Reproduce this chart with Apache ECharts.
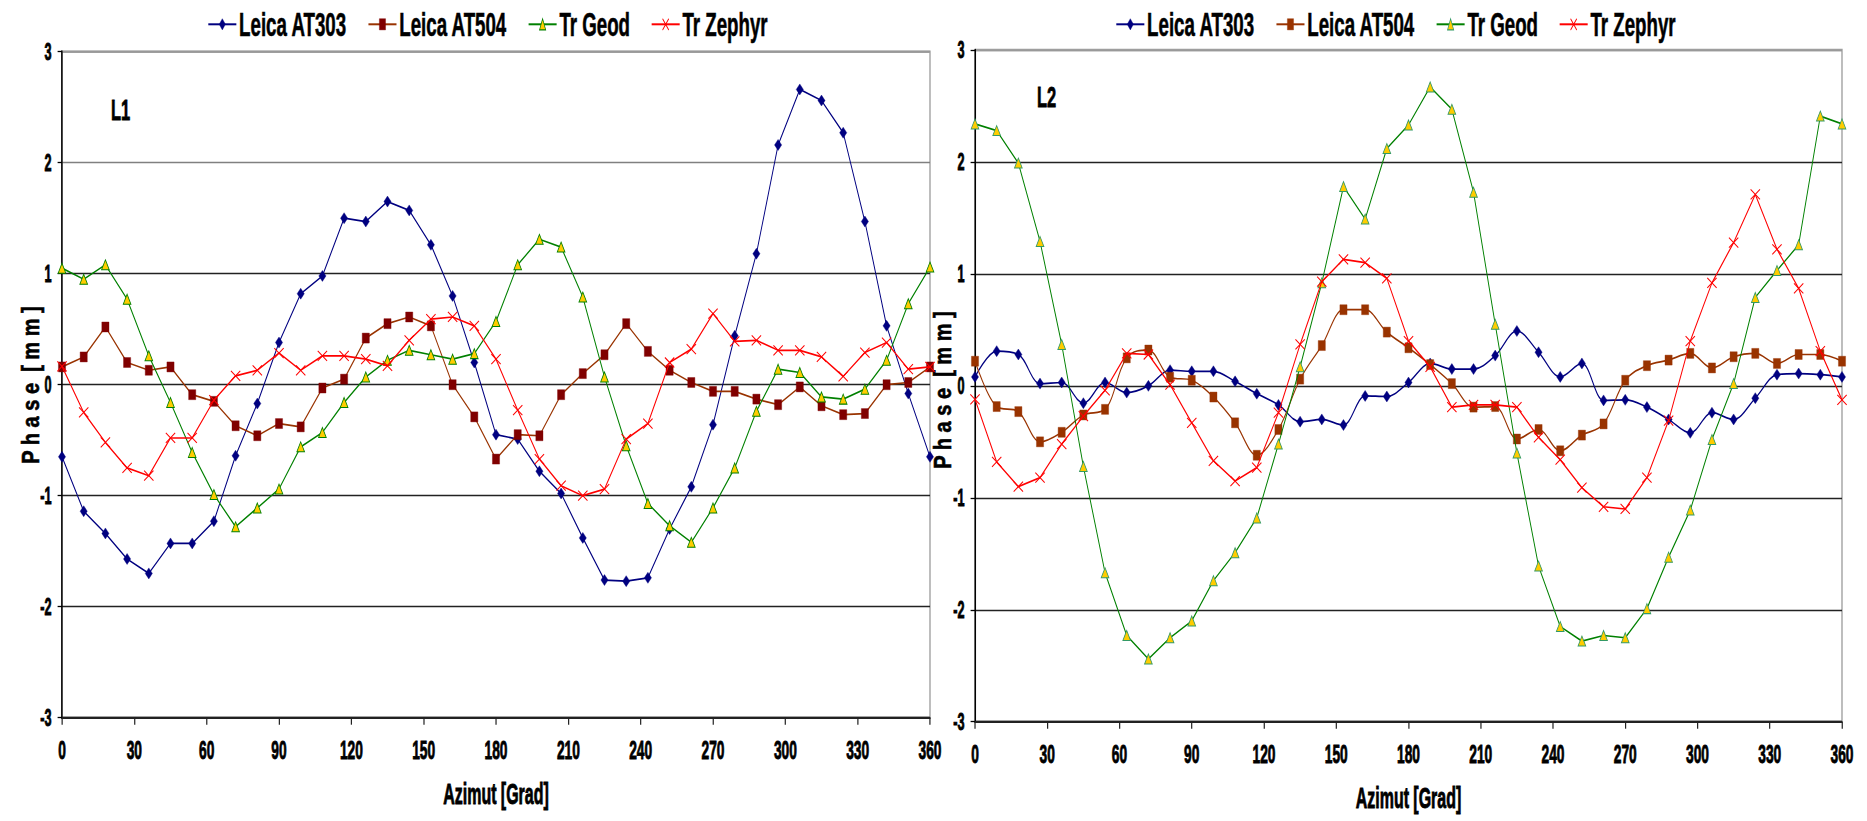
<!DOCTYPE html>
<html><head><meta charset="utf-8">
<script src="https://cdn.jsdelivr.net/npm/echarts@6/dist/echarts.min.js"></script>
<style>
html,body{margin:0;padding:0;overflow:hidden;background:#fff;width:1867px;height:821px;}
#c{width:3395px;height:821px;transform:scaleX(0.549926);transform-origin:0 0;}
</style></head><body><div id="c"></div>
<script>
// Azimuth (x values, degrees)
const azimuth = [0,9,18,27,36,45,54,63,72,81,90,99,108,117,126,135,144,153,162,171,180,189,198,207,216,225,234,243,252,261,270,279,288,297,306,315,324,333,342,351,360];
const xTicks = [0,30,60,90,120,150,180,210,240,270,300,330,360];
const yTicks = [-3,-2,-1,0,1,2,3];
const seriesNames = ['Leica AT303','Leica AT504','Tr Geod','Tr Zephyr'];

// Panel L1
const l1_at303 = [-0.65,-1.14,-1.34,-1.57,-1.70,-1.43,-1.43,-1.23,-0.64,-0.17,0.38,0.82,0.98,1.50,1.47,1.65,1.57,1.26,0.80,0.20,-0.45,-0.49,-0.78,-0.98,-1.38,-1.76,-1.77,-1.74,-1.30,-0.92,-0.36,0.44,1.18,2.16,2.66,2.56,2.27,1.47,0.53,-0.08,-0.65];
const l1_at504 = [0.16,0.25,0.52,0.20,0.13,0.16,-0.09,-0.15,-0.37,-0.46,-0.35,-0.38,-0.03,0.05,0.42,0.55,0.61,0.53,0.00,-0.29,-0.67,-0.45,-0.46,-0.09,0.10,0.27,0.55,0.30,0.13,0.02,-0.06,-0.06,-0.13,-0.18,-0.02,-0.19,-0.27,-0.26,0.00,0.02,0.16];
const l1_geod = [1.05,0.95,1.08,0.77,0.26,-0.16,-0.61,-0.99,-1.28,-1.11,-0.94,-0.56,-0.43,-0.16,0.07,0.22,0.31,0.27,0.23,0.28,0.57,1.08,1.31,1.24,0.79,0.07,-0.55,-1.07,-1.27,-1.42,-1.11,-0.75,-0.24,0.14,0.11,-0.11,-0.13,-0.04,0.22,0.73,1.06];
const l1_zephyr = [0.165,-0.25,-0.52,-0.75,-0.82,-0.48,-0.48,-0.14,0.08,0.13,0.285,0.13,0.26,0.26,0.23,0.17,0.40,0.59,0.61,0.53,0.23,-0.23,-0.67,-0.91,-1.00,-0.94,-0.49,-0.35,0.20,0.32,0.64,0.39,0.40,0.31,0.31,0.25,0.075,0.29,0.38,0.14,0.16];

// Panel L2
const l2_at303 = [0.08,0.31,0.28,0.02,0.03,-0.155,0.03,-0.06,0.00,0.14,0.13,0.13,0.04,-0.07,-0.17,-0.32,-0.30,-0.35,-0.09,-0.095,0.03,0.20,0.15,0.15,0.27,0.49,0.30,0.08,0.20,-0.13,-0.125,-0.19,-0.30,-0.42,-0.24,-0.30,-0.11,0.10,0.11,0.10,0.08];
const l2_at504 = [0.22,-0.185,-0.23,-0.50,-0.415,-0.26,-0.21,0.25,0.32,0.077,0.05,-0.10,-0.33,-0.62,-0.39,0.06,0.36,0.68,0.68,0.48,0.34,0.19,0.02,-0.19,-0.185,-0.475,-0.39,-0.58,-0.44,-0.34,0.05,0.18,0.23,0.29,0.16,0.26,0.29,0.20,0.28,0.28,0.22];
const l2_geod = [2.34,2.28,1.99,1.29,0.37,-0.72,-1.67,-2.23,-2.44,-2.25,-2.10,-1.74,-1.49,-1.18,-0.52,0.17,0.92,1.78,1.49,2.12,2.33,2.67,2.47,1.73,0.55,-0.60,-1.61,-2.15,-2.28,-2.23,-2.25,-1.99,-1.53,-1.11,-0.48,0.02,0.79,1.03,1.26,2.41,2.34];
const l2_zephyr = [-0.12,-0.68,-0.90,-0.82,-0.52,-0.27,-0.04,0.29,0.28,0.01,-0.33,-0.67,-0.85,-0.73,-0.24,0.37,0.93,1.13,1.10,0.96,0.40,0.17,-0.19,-0.17,-0.17,-0.19,-0.46,-0.66,-0.91,-1.08,-1.10,-0.82,-0.31,0.40,0.92,1.28,1.71,1.22,0.87,0.31,-0.125];

const W = 3395, SX = 1867 / W;
const U = v => v / SX;            // screen px -> unscaled px
const FONT = "'Liberation Sans', Arial, Helvetica, sans-serif";
const pairs = ys => azimuth.map((a, i) => [a, ys[i]]);
const CROSS = 'path://M0,0L10,10M10,0L0,10';
const HEAVY = { textBorderColor: '#000', textBorderWidth: 0.9 };

function styles(panel) {
  return [
    { symbol: 'diamond', symbolSize: [13, 11], line: '#000080', item: { color: '#000080', borderColor: '#000080', borderWidth: 0.5 }, smooth: panel === 2 ? 0.35 : false },
    { symbol: 'rect', symbolSize: [13, 10], line: '#993300', item: { color: panel === 1 ? '#800000' : '#993300', borderColor: panel === 1 ? '#800000' : '#993300', borderWidth: 0.5 }, smooth: panel === 2 ? 0.35 : false },
    { symbol: 'triangle', symbolSize: [14, 10], line: '#008000', item: { color: '#FFCC00', borderColor: panel === 1 ? '#008000' : '#339966', borderWidth: 1.2 }, smooth: false },
    { symbol: CROSS, symbolSize: [17, 10], line: '#FF0000', item: { color: '#FF0000', borderColor: '#FF0000', borderWidth: 1.4 }, smooth: false }
  ];
}

function mkSeries(panel, datas) {
  const st = styles(panel);
  return datas.map((d, i) => ({
    type: 'line', name: seriesNames[i], xAxisIndex: panel - 1, yAxisIndex: panel - 1,
    data: pairs(d), symbol: st[i].symbol, symbolSize: st[i].symbolSize, showAllSymbol: true,
    smooth: st[i].smooth, lineStyle: { color: st[i].line, width: 1.7 }, itemStyle: st[i].item,
    emphasis: { disabled: true }, z: 3 + i
  }));
}

function mkX(idx) {
  return {
    gridIndex: idx, type: 'value', min: xTicks[0], max: xTicks[xTicks.length - 1], interval: 30,
    name: 'Azimut [Grad]', nameLocation: 'middle', nameGap: 62,
    nameTextStyle: Object.assign({ fontFamily: FONT, fontWeight: 'bold', fontSize: 29, color: '#000' }, HEAVY),
    axisLine: { show: true, onZero: false, lineStyle: { color: '#222', width: 1.8 } },
    axisTick: { show: true, length: 7, lineStyle: { color: '#222', width: 2.2 } },
    axisLabel: Object.assign({ fontFamily: FONT, fontWeight: 'bold', fontSize: 25, color: '#000', margin: 20 }, HEAVY),
    splitLine: { show: false }
  };
}
function mkY(idx, splitColors) {
  return {
    gridIndex: idx, type: 'value', min: yTicks[0], max: yTicks[yTicks.length - 1], interval: 1,
    axisLine: { show: true, onZero: false, lineStyle: { color: '#000', width: 2.7 } },
    axisTick: { show: true, length: 8, lineStyle: { color: '#000', width: 1.3 } },
    axisLabel: Object.assign({ fontFamily: FONT, fontWeight: 'bold', fontSize: 23, color: '#000', margin: 19 }, HEAVY),
    splitLine: { show: true, lineStyle: { color: splitColors, width: 1.4 } }
  };
}
function mkLegend(left, panel) {
  const st = styles(panel);
  return {
    left: left, top: 2, itemWidth: 51, itemHeight: 14, itemGap: 38, orient: 'horizontal',
    textStyle: Object.assign({ fontFamily: FONT, fontWeight: 'bold', fontSize: 34, color: '#000' }, { textBorderColor: '#000', textBorderWidth: 0.6 }),
    data: seriesNames.map((n, i) => ({ name: n, itemStyle: st[i].item, lineStyle: { color: st[i].line, width: 2 } })),
    selectedMode: false
  };
}
function nameText(x, y) {
  return { type: 'text', x: x, y: y, rotation: Math.PI / 2, scaleY: 2.25,
    style: { text: 'P h a s e  [ m m ]', fontFamily: FONT, fontWeight: 'bold', fontSize: 20, fill: '#000', align: 'center', verticalAlign: 'middle', stroke: '#000', lineWidth: 0.5 } };
}

const chart = echarts.init(document.getElementById('c'), null, { renderer: 'svg', width: W, height: 821 });
chart.setOption({
  animation: false,
  backgroundColor: '#fff',
  grid: [
    { left: U(62), right: W - U(930), top: 51.7, height: 666, show: true, borderColor: '#a0a0a0', borderWidth: 2.5, backgroundColor: 'transparent' },
    { left: U(975), right: W - U(1842), top: 50, height: 671.7, show: true, borderColor: '#a0a0a0', borderWidth: 2.5, backgroundColor: 'transparent' }
  ],
  xAxis: [mkX(0), mkX(1)],
  yAxis: [
    mkY(0, ['#222', '#222', '#222', '#222', '#222', '#808080', '#999']),
    mkY(1, ['#222', '#222', '#222', '#222', '#222', '#222', '#999'])
  ],
  legend: [mkLegend(U(205), 1), mkLegend(U(1113), 2)],
  graphic: [
    { type: 'text', x: U(111), y: 94, style: { text: 'L1', fontFamily: FONT, fontWeight: 'bold', fontSize: 30, fill: '#000', stroke: '#000', lineWidth: 0.8 } },
    { type: 'text', x: U(1037), y: 81, style: { text: 'L2', fontFamily: FONT, fontWeight: 'bold', fontSize: 30, fill: '#000', stroke: '#000', lineWidth: 0.8 } },
    nameText(U(31), 385),
    nameText(U(943), 390)
  ],
  series: [
    ...mkSeries(1, [l1_at303, l1_at504, l1_geod, l1_zephyr]),
    ...mkSeries(2, [l2_at303, l2_at504, l2_geod, l2_zephyr])
  ]
});
</script></body></html>
